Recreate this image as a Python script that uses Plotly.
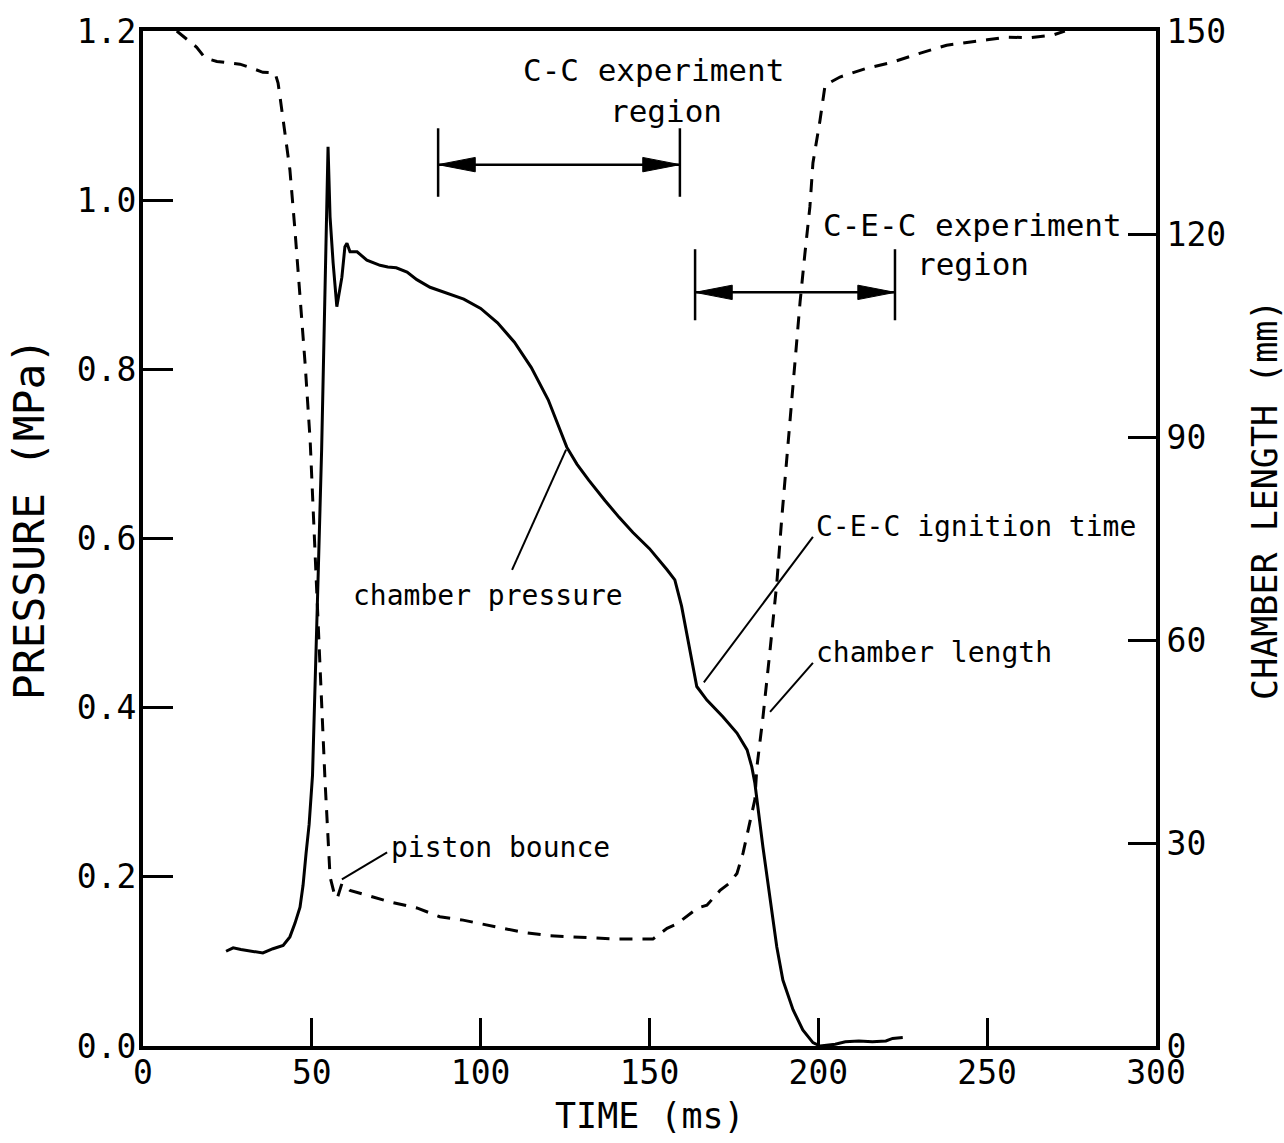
import plotly.graph_objects as go

# Chamber pressure trace (MPa) against time (ms)
time_p = [24.6, 26.7, 29.0, 31.7, 33.5, 35.5, 38.5, 41.5, 43.5, 45.0,
          46.5, 47.4, 48.3, 49.2, 50.2, 51.0, 51.9, 52.9, 53.7, 54.4,
          54.8, 55.4, 56.3, 57.4, 58.9, 59.8, 60.4, 61.3, 63.4, 66.3,
          70.2, 72.5, 75.0, 78.2, 81.1, 85.0, 90.0, 95.0, 100.0, 105.0,
          110.0, 115.0, 120.0, 122.8, 125.5, 128.5, 132.0, 136.8, 141.0, 145.1,
          150.0, 155.2, 157.5, 159.5, 161.4, 164.0, 167.0, 171.8, 175.9, 178.9,
          180.3, 181.2, 183.6, 185.7, 187.7, 189.5, 192.5, 195.4, 198.4, 200.5,
          205.0, 208.0, 212.0, 216.0, 220.0, 222.0, 225.0]
pressure = [0.112, 0.116, 0.114, 0.112, 0.111, 0.110, 0.115, 0.119, 0.129, 0.145,
            0.164, 0.190, 0.228, 0.262, 0.320, 0.420, 0.560, 0.705, 0.847, 1.004,
            1.063, 0.980, 0.926, 0.874, 0.909, 0.945, 0.949, 0.939, 0.939, 0.929,
            0.923, 0.921, 0.920, 0.915, 0.906, 0.897, 0.890, 0.883, 0.872, 0.855,
            0.832, 0.802, 0.764, 0.735, 0.708, 0.688, 0.669, 0.645, 0.625, 0.607,
            0.588, 0.563, 0.551, 0.520, 0.480, 0.425, 0.409, 0.389, 0.370, 0.350,
            0.330, 0.311, 0.235, 0.176, 0.117, 0.078, 0.043, 0.019, 0.004, 0.000,
            0.002, 0.005, 0.006, 0.005, 0.006, 0.009, 0.010]

# Chamber length trace (mm) against time (ms)
time_l = [10.0, 13.3, 15.9, 18.4, 21.9, 25.2, 28.7, 32.3, 35.5, 39.1,
          40.0, 40.6, 42.0, 43.5, 45.0, 46.5, 48.0, 49.5, 51.0, 52.5,
          53.9, 55.4, 56.5, 57.5, 58.9, 61.3, 66.3, 73.1, 81.1, 87.9,
          94.8, 104.8, 112.5, 120.5, 130.3, 140.0, 151.0, 155.2, 158.0, 161.0,
          164.3, 167.0, 170.9, 173.5, 175.9, 177.7, 179.2, 181.2, 181.8, 183.6,
          185.7, 187.7, 189.2, 191.6, 194.6, 196.0, 197.5, 198.4, 200.5, 202.0,
          206.4, 214.4, 222.0, 230.0, 238.0, 250.0, 255.8, 262.6, 269.5, 273.0]
length = [150.0, 148.7, 147.6, 146.0, 145.5, 145.3, 145.1, 144.5, 143.9, 143.8,
          142.3, 140.2, 135.4, 129.5, 120.6, 110.7, 100.9, 89.5, 72.0, 56.0,
          39.3, 25.0, 22.8, 21.8, 24.0, 23.0, 22.3, 21.3, 20.4, 19.1,
          18.6, 17.6, 16.8, 16.3, 16.0, 15.8, 15.8, 17.4, 18.0, 19.1,
          20.4, 20.8, 23.0, 24.0, 25.5, 28.5, 31.9, 36.4, 41.2, 48.6,
          58.5, 68.4, 78.2, 92.5, 110.0, 117.0, 124.0, 130.5, 136.8, 142.0,
          143.2, 144.5, 145.4, 146.7, 147.9, 148.7, 149.1, 149.0, 149.4, 150.0]

# Axis ticks
x_ticks = [0, 50, 100, 150, 200, 250, 300]
p_ticks = [0.0, 0.2, 0.4, 0.6, 0.8, 1.0, 1.2]
p_tick_text = ["0.0", "0.2", "0.4", "0.6", "0.8", "1.0", "1.2"]
l_ticks = [0, 30, 60, 90, 120, 150]

# Experiment windows (ms) and the pressure level of their markers (MPa)
cc_region = (87.4, 159.0)
cc_marker = (1.004, 1.042, 1.085)       # bar bottom, arrow level, bar top
cec_region = (163.5, 222.7)
cec_marker = (0.858, 0.891, 0.942)

FONT = "DejaVu Sans Mono"
INK = "black"

fig = go.Figure()
fig.add_trace(go.Scatter(x=time_p, y=pressure, mode="lines", yaxis="y",
                         line=dict(color=INK, width=3), showlegend=False,
                         name="chamber pressure"))
fig.add_trace(go.Scatter(x=time_l, y=length, mode="lines", yaxis="y2",
                         line=dict(color=INK, width=3, dash="13px,10px"),
                         showlegend=False, name="chamber length"))

shapes = []


def region_marker(span, levels):
    t0, t1 = span
    lo, mid, hi = levels
    head_len = 11.0
    half_w = 0.0085
    for t in (t0, t1):
        shapes.append(dict(type="line", xref="x", yref="y", x0=t, x1=t, y0=lo, y1=hi,
                           line=dict(color=INK, width=2.5)))
    shapes.append(dict(type="line", xref="x", yref="y", x0=t0, x1=t1, y0=mid, y1=mid,
                       line=dict(color=INK, width=2.5)))
    shapes.append(dict(type="path", xref="x", yref="y",
                       path=f"M {t0},{mid} L {t0 + head_len},{mid + half_w} L {t0 + head_len},{mid - half_w} Z",
                       fillcolor=INK, line=dict(color=INK, width=1)))
    shapes.append(dict(type="path", xref="x", yref="y",
                       path=f"M {t1},{mid} L {t1 - head_len},{mid + half_w} L {t1 - head_len},{mid - half_w} Z",
                       fillcolor=INK, line=dict(color=INK, width=1)))


region_marker(cc_region, cc_marker)
region_marker(cec_region, cec_marker)

# Leader lines from labels to the curves: (t_label, p_label, t_curve, p_curve)
leaders = [
    (109.3, 0.563, 125.3, 0.705),   # chamber pressure
    (198.4, 0.602, 166.1, 0.430),   # C-E-C ignition time
    (198.4, 0.453, 185.7, 0.395),   # chamber length
    (72.3, 0.229, 58.9, 0.197),     # piston bounce
]
for xa, ya, xb, yb in leaders:
    shapes.append(dict(type="line", xref="x", yref="y", x0=xa, y0=ya, x1=xb, y1=yb,
                       line=dict(color=INK, width=2)))

annotations = []


def label(text, x, y, size, xref="x", yref="y", angle=0):
    annotations.append(dict(text=text, x=x, y=y, xref=xref, yref=yref,
                            showarrow=False, xanchor="center", yanchor="middle",
                            textangle=angle, font=dict(family=FONT, size=size, color=INK)))


label("C-C experiment", 151.3, 1.154, 31)
label("region", 154.9, 1.106, 31)
label("C-E-C experiment", 245.8, 0.971, 31)
label("region", 245.8, 0.925, 31)
label("chamber pressure", 102.2, 0.533, 28)
label("C-E-C ignition time", 246.7, 0.614, 28)
label("chamber length", 234.2, 0.465, 28)
label("piston bounce", 106.0, 0.235, 28)

# Axis titles
label("TIME (ms)", 0.5, -0.069, 35, xref="paper", yref="paper")
label("PRESSURE (MPa)", -0.1125, 0.519, 43, xref="paper", yref="paper", angle=-90)
label("CHAMBER LENGTH (mm)", 1.1076, 0.538, 35, xref="paper", yref="paper", angle=-90)

tick_font = dict(family=FONT, size=33, color=INK)

fig.update_layout(
    width=1284, height=1143,
    margin=dict(l=143, r=128, t=31, b=97),
    paper_bgcolor="white", plot_bgcolor="white",
    font=dict(family=FONT, color=INK),
    xaxis=dict(range=[0, 300], tickmode="array", tickvals=x_ticks,
               ticks="inside", ticklen=28, tickwidth=2.5, tickcolor=INK,
               showline=True, linewidth=4, linecolor=INK, mirror=True,
               showgrid=False, zeroline=False, tickfont=tick_font,
               ticklabelstandoff=-6),
    yaxis=dict(range=[0, 1.2], tickmode="array", tickvals=p_ticks, ticktext=p_tick_text,
               ticks="inside", ticklen=30, tickwidth=2.5, tickcolor=INK,
               showline=True, linewidth=4, linecolor=INK, mirror=True,
               showgrid=False, zeroline=False, tickfont=tick_font,
               ticklabelstandoff=-4),
    yaxis2=dict(range=[0, 150], tickmode="array", tickvals=l_ticks,
                overlaying="y", side="right",
                ticks="inside", ticklen=28, tickwidth=2.5, tickcolor=INK,
                showline=True, linewidth=4, linecolor=INK,
                showgrid=False, zeroline=False, tickfont=tick_font),
    shapes=shapes,
    annotations=annotations,
    showlegend=False,
)

fig.write_html("out.html")
